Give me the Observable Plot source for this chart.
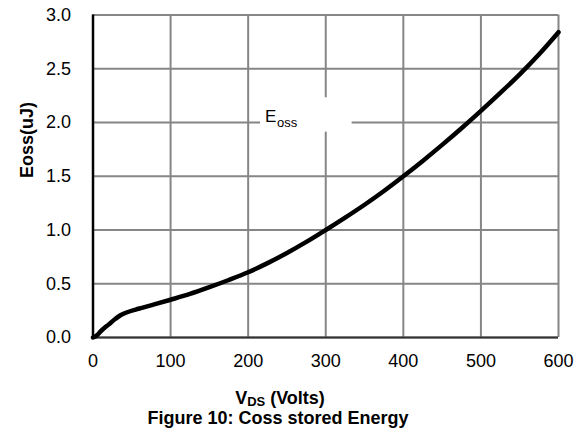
<!DOCTYPE html>
<html><head><meta charset="utf-8">
<script src="https://cdn.jsdelivr.net/npm/d3@7"></script>
<script src="https://cdn.jsdelivr.net/npm/@observablehq/plot@0.6"></script>
<style>body{margin:0;background:#fff;} svg{font-family:"Liberation Sans",Arial,sans-serif;}</style>
</head><body><div id="chart"></div>
<script>
// Data
const vds  = [0, 5, 11, 20, 29, 36, 44, 55, 63, 80, 100, 125, 150, 175, 200, 225, 250, 275, 300, 325, 350, 375, 400, 425, 450, 475, 500, 525, 550, 575, 600];
const eoss = [0, 0.02, 0.065, 0.12, 0.174, 0.21, 0.235, 0.26, 0.276, 0.31, 0.351, 0.405, 0.468, 0.535, 0.607, 0.692, 0.786, 0.889, 1.0, 1.115, 1.235, 1.363, 1.5, 1.643, 1.792, 1.947, 2.108, 2.275, 2.448, 2.635, 2.84];
const xTicks = [0, 100, 200, 300, 400, 500, 600];
const yTicks = [0, 0.5, 1.0, 1.5, 2.0, 2.5, 3.0];
const seriesName = "E";
const seriesSub = "oss";
const labelBox = [{x1: 216, x2: 334, y1: 1.91, y2: 2.23}];
const labelAt = [{x: 221.7, y: 2.06, xs: 237.3, ys: 2.0015}];
const yTitle = "Eoss(uJ)";
const xTitleMain = "V", xTitleSub = "DS", xTitleRest = " (Volts)";
const caption = "Figure 10: Coss stored Energy";

const data = vds.map((v, i) => ({v, e: eoss[i]}));

const chart = Plot.plot({
  width: 582, height: 432,
  marginLeft: 92.5, marginRight: 24, marginTop: 14.5, marginBottom: 95,
  style: {fontSize: "18px", fontFamily: "Liberation Sans, Arial, sans-serif", color: "#000", background: "#fff"},
  x: {domain: [0, 600]},
  y: {domain: [0, 3]},
  marks: [
    Plot.ruleX(xTicks, {stroke: "#868686", strokeWidth: 2}),
    Plot.ruleY(yTicks, {stroke: "#868686", strokeWidth: 2}),
    Plot.rect(labelBox, {x1: "x1", x2: "x2", y1: "y1", y2: "y2", fill: "white"}),
    Plot.ruleY([0], {stroke: "#333", strokeWidth: 2}),
    Plot.ruleX([0], {stroke: "#000", strokeWidth: 2.5}),
    Plot.line(data, {x: "v", y: "e", stroke: "#000", strokeWidth: 4.5, curve: "catmull-rom"}),
    Plot.axisX(xTicks, {tickSize: 0, tickPadding: 17, label: null, fontSize: 18}),
    Plot.axisY(yTicks, {tickSize: 0, tickPadding: 22, label: null, fontSize: 18, tickFormat: d => d.toFixed(1)}),
    Plot.text(labelAt, {x: "x", y: "y", text: () => seriesName, textAnchor: "start", fontSize: 17}),
    Plot.text(labelAt, {x: "xs", y: "ys", text: () => seriesSub, textAnchor: "start", fontSize: 13})
  ]
});

const svg = d3.select(chart);
svg.append("text")
  .attr("transform", "translate(33,140) rotate(-90)")
  .attr("text-anchor", "middle").attr("font-weight", "bold").attr("font-size", 18)
  .text(yTitle);
const xt = svg.append("text").attr("x", 280).attr("y", 404)
  .attr("text-anchor", "middle").attr("font-weight", "bold").attr("font-size", 18);
xt.append("tspan").text(xTitleMain);
xt.append("tspan").attr("font-size", 13).attr("dy", 2).text(xTitleSub);
xt.append("tspan").attr("dy", -2).text(xTitleRest);
svg.append("text").attr("x", 278).attr("y", 424)
  .attr("text-anchor", "middle").attr("font-weight", "bold").attr("font-size", 18)
  .text(caption);

document.getElementById("chart").append(chart);
</script>
</body></html>
